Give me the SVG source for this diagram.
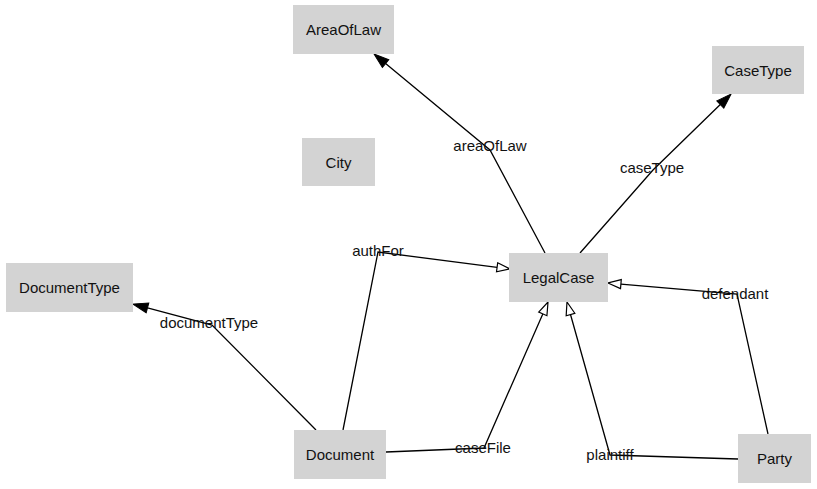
<svg xmlns="http://www.w3.org/2000/svg" width="817" height="489" viewBox="0 0 817 489">
  <style>
    .node rect { fill: #d3d3d3; stroke: none; }
    .node text { font-family: "Liberation Sans", Arial, sans-serif; font-size: 15px; fill: #111; text-anchor: middle; }
    .edge path { fill: none; stroke: #000; stroke-width: 1.3; }
    .label { font-family: "Liberation Sans", Arial, sans-serif; font-size: 15px; fill: #111; text-anchor: middle; }
  </style>
  <defs>
    <marker id="filled" markerUnits="userSpaceOnUse" markerWidth="15" markerHeight="10" refX="0" refY="5" orient="auto" overflow="visible">
      <path d="M0,0 L15,5 L0,10 z" fill="#000" stroke="#000" stroke-width="1"/>
    </marker>
    <marker id="hollow" markerUnits="userSpaceOnUse" markerWidth="13" markerHeight="9" refX="0" refY="4.5" orient="auto" overflow="visible">
      <path d="M0,0 L13,4.5 L0,9 z" fill="#fff" stroke="#000" stroke-width="1.2"/>
    </marker>
  </defs>

  <rect width="817" height="489" fill="#fff"/>

  <g id="edges" class="edge">
    <path d="M545,253 L490,150 L385.6,63.6" marker-end="url(#filled)"/>
    <path d="M580,253 L653,170 L720.3,104.5" marker-end="url(#filled)"/>
    <path d="M316,430 L212,325 L147.5,307.9" marker-end="url(#filled)"/>
    <path d="M343,430 L378,252 L497.1,267.3" marker-end="url(#hollow)"/>
    <path d="M386,452 L484,448 L542.8,313.9" marker-end="url(#hollow)"/>
    <path d="M738,459 L610,455 L570.5,314.5" marker-end="url(#hollow)"/>
    <path d="M768,434 L737,294 L620.9,284.1" marker-end="url(#hollow)"/>
  </g>

  <g id="edge-labels">
    <text class="label" x="490" y="151">areaOfLaw</text>
    <text class="label" x="652" y="173">caseType</text>
    <text class="label" x="209" y="328">documentType</text>
    <text class="label" x="378" y="256">authFor</text>
    <text class="label" x="483" y="453">caseFile</text>
    <text class="label" x="610" y="460">plaintiff</text>
    <text class="label" x="735" y="299">defendant</text>
  </g>

  <g id="AreaOfLaw" class="node">
    <rect x="293" y="5" width="101" height="49"/>
    <text x="343.5" y="35">AreaOfLaw</text>
  </g>
  <g id="CaseType" class="node">
    <rect x="712" y="46" width="92" height="48"/>
    <text x="758" y="75.5">CaseType</text>
  </g>
  <g id="City" class="node">
    <rect x="302" y="138" width="73" height="48"/>
    <text x="338.5" y="167.5">City</text>
  </g>
  <g id="DocumentType" class="node">
    <rect x="6" y="263" width="127" height="49"/>
    <text x="69.5" y="293">DocumentType</text>
  </g>
  <g id="LegalCase" class="node">
    <rect x="509" y="253" width="99" height="49"/>
    <text x="558.5" y="283">LegalCase</text>
  </g>
  <g id="Document" class="node">
    <rect x="294" y="430" width="92" height="49"/>
    <text x="340" y="460">Document</text>
  </g>
  <g id="Party" class="node">
    <rect x="738" y="434" width="73" height="49"/>
    <text x="774.5" y="464">Party</text>
  </g>
</svg>
